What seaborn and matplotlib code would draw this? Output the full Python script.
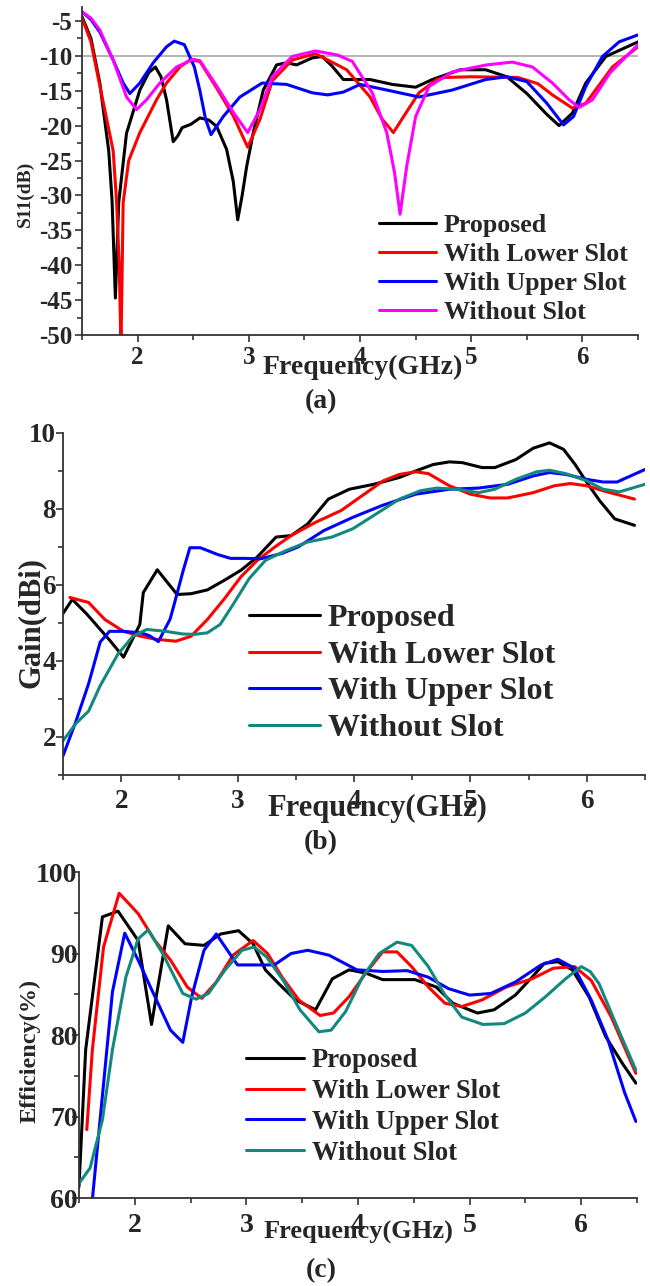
import matplotlib
matplotlib.use('Agg')
import matplotlib.pyplot as plt
import seaborn as sns
from matplotlib.ticker import MultipleLocator

sns.set_theme(style='ticks')
plt.rcParams['font.family'] = ['Liberation Serif', 'DejaVu Serif']
plt.rcParams['font.weight'] = 'bold'
plt.rcParams['axes.labelweight'] = 'bold'
plt.rcParams['axes.unicode_minus'] = False

labels = ['Proposed', 'With Lower Slot', 'With Upper Slot', 'Without Slot']

# (a) S11 in dB
s11_prop_f = [1.50, 1.58, 1.66, 1.74, 1.77, 1.80, 1.83, 1.90, 2.02, 2.10, 2.16, 2.21, 2.26, 2.32, 2.36, 2.40,
              2.48, 2.56, 2.64, 2.71, 2.80, 2.86, 2.90, 2.94, 2.98, 3.04, 3.13, 3.25, 3.34, 3.43, 3.57, 3.66,
              3.75, 3.85, 4.09, 4.29, 4.50, 4.65, 4.90, 5.13, 5.32, 5.50, 5.68, 5.79, 5.91, 6.03, 6.21, 6.50]
s11_prop = [-4.4, -7.5, -13.9, -23.6, -30.7, -44.7, -31, -21.1, -14.9, -12.4, -11.6, -13, -16.3, -22.3, -21.5, -20.3,
            -19.8, -18.9, -19.2, -20.1, -23.4, -28, -33.5, -30, -25.9, -21, -14.9, -11.3, -11, -11.3, -10.3, -10.1,
            -11.5, -13.4, -13.4, -14.1, -14.5, -13.4, -12, -12, -13, -15.4, -18.4, -20, -18.2, -13.9, -10.1, -8]

s11_low_f = [1.50, 1.58, 1.66, 1.74, 1.78, 1.81, 1.835, 1.85, 1.87, 1.92, 2.02, 2.10, 2.17, 2.26, 2.38, 2.47,
             2.56, 2.71, 2.86, 2.99, 3.10, 3.21, 3.39, 3.60, 3.88, 4.09, 4.20, 4.30, 4.40, 4.53, 4.69, 4.76,
             5.00, 5.42, 5.60, 5.73, 5.91, 6.03, 6.27, 6.50]
s11_low = [-4.6, -8, -14.3, -20.5, -23.6, -30.7, -40, -52, -31, -25, -21, -18.5, -16.3, -13.9, -11.6, -10.6,
           -10.8, -14.6, -18.6, -23.1, -19.1, -13.6, -10.6, -9.7, -12, -15.9, -19.1, -21, -18.5, -15.3, -13.4, -13.1,
           -13, -13.1, -14, -15.6, -17.5, -16.8, -11.6, -8.7]

s11_up_f = [1.50, 1.58, 1.66, 1.78, 1.87, 1.93, 2.02, 2.14, 2.26, 2.33, 2.42, 2.51, 2.56, 2.61, 2.66, 2.77,
            2.92, 3.12, 3.34, 3.57, 3.71, 3.85, 4.00, 4.24, 4.53, 4.83, 5.13, 5.32, 5.50, 5.68, 5.83, 5.92,
            6.03, 6.18, 6.33, 6.50]
s11_up = [-3.7, -4.8, -6.6, -10.6, -13.9, -15.4, -13.9, -11, -8.7, -7.9, -8.4, -11.6, -15, -19, -21.3, -18.7,
          -15.9, -13.9, -14.1, -15.3, -15.6, -15.2, -14.1, -14.9, -15.9, -14.9, -13.4, -13, -13.7, -16.8, -19.9, -18.7,
          -14.4, -10.1, -8, -7]

s11_none_f = [1.50, 1.58, 1.66, 1.78, 1.90, 1.99, 2.08, 2.20, 2.35, 2.50, 2.56, 2.71, 2.86, 2.99, 3.10, 3.21,
              3.39, 3.60, 3.80, 3.93, 4.11, 4.24, 4.31, 4.36, 4.42, 4.50, 4.62, 4.83, 5.14, 5.37, 5.55, 5.73,
              5.88, 5.97, 6.09, 6.25, 6.50]
s11_none = [-3.7, -4.6, -6.3, -10.6, -15.9, -17.7, -16.3, -13.9, -11.6, -10.5, -10.7, -14.3, -18.1, -21, -17.7, -13,
            -10.1, -9.3, -9.9, -10.8, -15.3, -21, -26.7, -32.7, -25.8, -18.7, -14.4, -12.3, -11.3, -10.9, -11.6, -13.9,
            -16.3, -17.4, -16.3, -12.4, -8.4]

# (b) gain in dBi
gain_prop_f = [1.50, 1.58, 1.70, 1.80, 1.90, 2.02, 2.16, 2.19, 2.31, 2.48, 2.60, 2.74, 2.89, 3.03, 3.17, 3.33,
               3.46, 3.60, 3.78, 3.96, 4.17, 4.39, 4.53, 4.68, 4.82, 4.93, 5.10, 5.21, 5.39, 5.54, 5.68, 5.80,
               5.90, 6.00, 6.11, 6.24, 6.41]
gain_prop = [5.25, 5.62, 5.25, 4.9, 4.55, 4.1, 4.96, 5.8, 6.4, 5.75, 5.77, 5.87, 6.13, 6.39, 6.74, 7.26,
             7.3, 7.6, 8.26, 8.52, 8.65, 8.83, 9.0, 9.17, 9.24, 9.22, 9.09, 9.09, 9.3, 9.6, 9.74, 9.57,
             9.17, 8.7, 8.22, 7.74, 7.57]

gain_low_f = [1.56, 1.72, 1.86, 2.02, 2.17, 2.30, 2.47, 2.60, 2.74, 2.89, 3.03, 3.17, 3.32, 3.46, 3.67, 3.89,
              4.07, 4.25, 4.39, 4.53, 4.64, 4.82, 5.00, 5.17, 5.32, 5.54, 5.72, 5.86, 6.00, 6.14, 6.41]
gain_low = [5.67, 5.54, 5.09, 4.78, 4.65, 4.57, 4.52, 4.65, 5.09, 5.65, 6.22, 6.65, 7.0, 7.3, 7.65, 7.96,
            8.35, 8.74, 8.91, 8.98, 8.93, 8.61, 8.39, 8.29, 8.29, 8.43, 8.61, 8.67, 8.61, 8.48, 8.26]

gain_up_f = [1.50, 1.61, 1.72, 1.82, 1.90, 2.02, 2.17, 2.24, 2.32, 2.42, 2.45, 2.53, 2.59, 2.68, 2.83, 2.94,
             3.06, 3.20, 3.38, 3.52, 3.74, 3.99, 4.24, 4.53, 4.82, 5.07, 5.32, 5.54, 5.68, 5.82, 6.00, 6.14,
             6.26, 6.50]
gain_up = [1.5, 2.4, 3.4, 4.5, 4.78, 4.78, 4.74, 4.67, 4.51, 5.1, 5.43, 6.35, 6.98, 6.98, 6.8, 6.7,
           6.7, 6.69, 6.83, 7.0, 7.43, 7.78, 8.09, 8.39, 8.52, 8.55, 8.65, 8.87, 8.96, 8.91, 8.78, 8.71,
           8.71, 9.04]

gain_none_f = [1.50, 1.61, 1.72, 1.82, 1.97, 2.10, 2.22, 2.38, 2.53, 2.63, 2.74, 2.85, 2.96, 3.10, 3.24, 3.42,
               3.60, 3.81, 3.99, 4.17, 4.39, 4.57, 4.71, 4.89, 5.07, 5.21, 5.39, 5.57, 5.68, 5.82, 6.00, 6.14,
               6.28, 6.50]
gain_none = [1.9, 2.35, 2.68, 3.35, 4.17, 4.65, 4.83, 4.78, 4.71, 4.7, 4.74, 4.96, 5.48, 6.17, 6.65, 6.91,
             7.13, 7.26, 7.48, 7.83, 8.26, 8.48, 8.55, 8.52, 8.43, 8.52, 8.78, 8.98, 9.02, 8.93, 8.74, 8.52,
             8.45, 8.65]

# (c) efficiency in %
eff_prop_f = [1.50, 1.56, 1.71, 1.85, 2.03, 2.15, 2.30, 2.45, 2.62, 2.77, 2.93, 3.06, 3.17, 3.29, 3.44, 3.62,
              3.77, 3.92, 4.07, 4.22, 4.51, 4.70, 4.85, 5.07, 5.22, 5.41, 5.56, 5.67, 5.79, 5.92, 6.07, 6.22,
              6.37, 6.49]
eff_prop = [61.4, 78.2, 94.5, 95.2, 91.6, 81.3, 93.4, 91.2, 91.0, 92.4, 92.8, 91.2, 88.0, 86.3, 84.3, 83.1,
            86.9, 88.0, 87.6, 86.8, 86.8, 85.9, 83.9, 82.7, 83.1, 84.9, 87.1, 88.8, 89.0, 88.0, 84.7, 79.8,
            76.5, 74.1]

eff_low_f = [1.57, 1.62, 1.72, 1.86, 2.03, 2.18, 2.32, 2.47, 2.60, 2.73, 2.88, 3.06, 3.19, 3.32, 3.47, 3.66,
             3.78, 3.92, 4.07, 4.22, 4.35, 4.48, 4.63, 4.78, 4.93, 5.11, 5.33, 5.56, 5.75, 5.94, 6.09, 6.27,
             6.49]
eff_low = [68.4, 78.2, 90.8, 97.4, 94.9, 91.6, 89.2, 85.9, 84.5, 86.5, 89.8, 91.6, 90.0, 87.1, 84.3, 82.4,
           82.7, 84.7, 87.6, 90.2, 90.2, 88.4, 85.9, 83.9, 83.5, 84.3, 85.9, 86.9, 88.2, 88.4, 86.7, 82.2,
           75.3]

eff_up_f = [1.60, 1.80, 1.91, 2.03, 2.14, 2.32, 2.43, 2.51, 2.62, 2.73, 2.92, 3.10, 3.25, 3.40, 3.55, 3.74,
            3.99, 4.22, 4.44, 4.63, 4.81, 5.00, 5.19, 5.41, 5.64, 5.79, 5.94, 6.09, 6.24, 6.39, 6.49]
eff_up = [57, 85.3, 92.5, 89.2, 85.9, 80.6, 79.1, 84.7, 90.4, 92.4, 88.6, 88.6, 88.6, 90.0, 90.4, 89.8,
          88.0, 87.8, 87.9, 87.1, 85.7, 84.9, 85.1, 86.5, 88.6, 89.3, 88.2, 84.3, 79.4, 72.9, 69.4]

eff_none_f = [1.50, 1.60, 1.71, 1.80, 1.92, 2.03, 2.12, 2.25, 2.43, 2.55, 2.66, 2.81, 2.96, 3.07, 3.18, 3.33,
              3.48, 3.65, 3.76, 3.89, 4.04, 4.19, 4.35, 4.48, 4.63, 4.78, 4.93, 5.12, 5.31, 5.50, 5.68, 5.86,
              6.00, 6.08, 6.16, 6.31, 6.49]
eff_none = [61.8, 63.7, 69.6, 78.2, 87.1, 91.8, 92.9, 90.0, 85.1, 84.4, 85.1, 88.0, 90.4, 90.8, 89.6, 86.7,
            83.1, 80.4, 80.6, 82.9, 87.1, 90.0, 91.4, 91.0, 88.4, 84.9, 82.2, 81.3, 81.4, 82.7, 84.7, 86.9,
            88.4, 87.8, 86.3, 81.4, 75.7]

fig = plt.figure(figsize=(6.5, 12.86), dpi=100)

ax_a = fig.add_axes([0.1262, 0.7395, 0.8554, 0.2551])
ax_b = fig.add_axes([0.0969, 0.3974, 0.8954, 0.2659])
ax_c = fig.add_axes([0.1215, 0.0684, 0.8585, 0.2535])

panels = [
    (ax_a, [(s11_prop_f, s11_prop), (s11_low_f, s11_low), (s11_up_f, s11_up), (s11_none_f, s11_none)],
     ['black', '#ff0000', '#0000ff', '#ff00ff']),
    (ax_b, [(gain_prop_f, gain_prop), (gain_low_f, gain_low), (gain_up_f, gain_up), (gain_none_f, gain_none)],
     ['black', '#ff0000', '#0000ff', '#12897e']),
    (ax_c, [(eff_prop_f, eff_prop), (eff_low_f, eff_low), (eff_up_f, eff_up), (eff_none_f, eff_none)],
     ['black', '#ff0000', '#0000ff', '#12897e']),
]

for ax, series, colors in panels:
    for (f, v), lab, col in zip(series, labels, colors):
        sns.lineplot(x=f, y=v, ax=ax, color=col, label=lab, linewidth=2.2, sort=False)
    ax.set_xlim(1.5, 6.5)
    ax.xaxis.set_major_locator(MultipleLocator(1))
    ax.xaxis.set_minor_locator(MultipleLocator(0.5))
    sns.despine(ax=ax)
    for sp in ['left', 'bottom']:
        ax.spines[sp].set_color('#333333')
        ax.spines[sp].set_linewidth(1.3)
    ax.tick_params(which='both', direction='out', color='#333333', width=1.2)
    ax.tick_params(which='major', length=5)
    ax.tick_params(which='minor', length=3.5)

ax_a.axhline(-10, color='#a8a8a8', linewidth=1.2, zorder=0)

# (a)
ax_a.set_ylim(-50, -3)
ax_a.yaxis.set_major_locator(MultipleLocator(5))
ax_a.yaxis.set_minor_locator(MultipleLocator(2.5))
ax_a.tick_params(axis='both', labelsize=18)
ax_a.tick_params(axis='y', pad=2)
ax_a.tick_params(axis='x', pad=3)
ax_a.set_xlabel('Frequency(GHz)', fontsize=20, va='center')
ax_a.xaxis.set_label_coords(0.504, -0.098)
ax_a.set_ylabel('S11(dB)', fontsize=14, va='center')
ax_a.yaxis.set_label_coords(-0.1025, 0.43)
ax_a.legend(loc='upper left', bbox_to_anchor=(0.534, 0.369), fontsize=18.7, frameon=False,
            borderpad=0, borderaxespad=0, handlelength=2.2, handletextpad=0.3, labelspacing=0.22)

# (b)
ax_b.set_ylim(1, 10)
ax_b.yaxis.set_major_locator(MultipleLocator(2))
ax_b.yaxis.set_minor_locator(MultipleLocator(1))
ax_b.tick_params(axis='both', labelsize=19.5)
ax_b.tick_params(axis='y', pad=0)
ax_b.tick_params(axis='x', pad=5)
ax_b.set_xlabel('Frequency(GHz)', fontsize=22, va='center')
ax_b.xaxis.set_label_coords(0.54, -0.097)
ax_b.set_ylabel('Gain(dBi)', fontsize=22, va='center')
ax_b.yaxis.set_label_coords(-0.055, 0.445)
ax_b.legend(loc='upper left', bbox_to_anchor=(0.32, 0.50), fontsize=23.1, frameon=False,
            borderpad=0, borderaxespad=0, handlelength=2.2, handletextpad=0.24, labelspacing=0.22)

# (c)
ax_c.set_ylim(60, 100)
ax_c.yaxis.set_major_locator(MultipleLocator(10))
ax_c.yaxis.set_minor_locator(MultipleLocator(5))
ax_c.tick_params(axis='both', labelsize=20)
ax_c.tick_params(axis='y', pad=-4)
ax_c.tick_params(axis='x', pad=6)
ax_c.set_xlabel('Frequency(GHz)', fontsize=19, va='center')
ax_c.xaxis.set_label_coords(0.5, -0.107)
ax_c.set_ylabel('Efficiency(%)', fontsize=17.5, va='center')
ax_c.yaxis.set_label_coords(-0.088, 0.45)
ax_c.legend(loc='upper left', bbox_to_anchor=(0.30, 0.46), fontsize=19.2, frameon=False,
            borderpad=0, borderaxespad=0, handlelength=2.15, handletextpad=0.3, labelspacing=0.22)

for txt, y in [('(a)', 402), ('(b)', 843), ('(c)', 1271)]:
    fig.text(321 / 650, 1 - y / 1286, txt, ha='center', va='center', fontsize=20, fontweight='bold')

fig.savefig('out.png', dpi=100)
